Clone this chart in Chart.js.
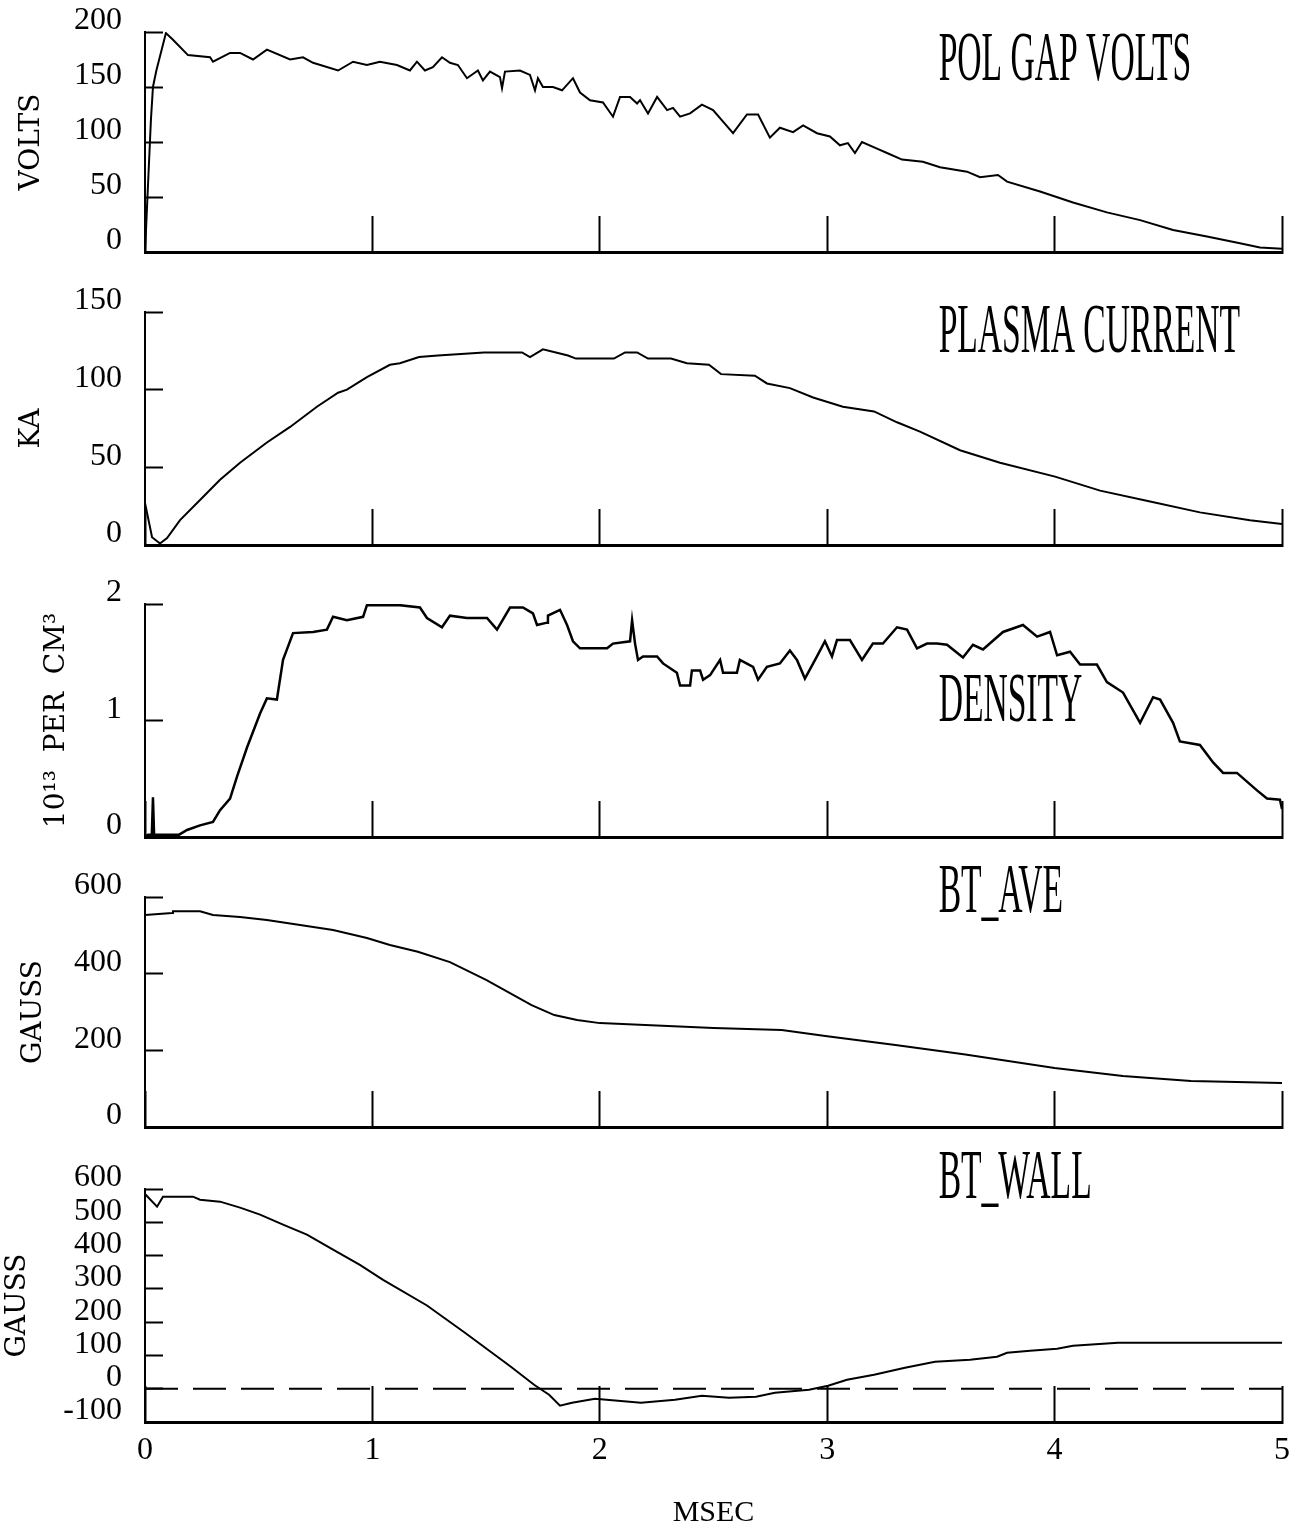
<!DOCTYPE html>
<html>
<head>
<meta charset="utf-8">
<title>Discharge traces</title>
<script src="https://cdn.jsdelivr.net/npm/chart.js@4.4.1/dist/chart.umd.min.js"></script>
<style>
  html, body { margin: 0; padding: 0; background: #fff; }
  #page { position: relative; width: 1289px; height: 1533px; overflow: hidden; }
  .panel { position: absolute; left: 0; width: 1289px; }
</style>
</head>
<body>
<div id="page">
  <div class="panel" style="top:0px;height:302px"><canvas id="gap"></canvas></div>
  <div class="panel" style="top:262px;height:333px"><canvas id="current"></canvas></div>
  <div class="panel" style="top:554px;height:333px"><canvas id="density"></canvas></div>
  <div class="panel" style="top:847px;height:330px"><canvas id="btave"></canvas></div>
  <div class="panel" style="top:1139px;height:394px"><canvas id="btwall"></canvas></div>
</div>
<script>
// all traces share one time base, in msec
const timeTicks = [0, 1, 2, 3, 4, 5];

// poloidal gap voltage (V)
const gapT = [0, 0.013, 0.026, 0.035, 0.05, 0.092, 0.123, 0.189, 0.286, 0.299,
  0.374, 0.418, 0.475, 0.536, 0.638, 0.695, 0.739, 0.849, 0.915, 0.976,
  1.033, 1.108, 1.165, 1.196, 1.231, 1.266, 1.306, 1.341, 1.376, 1.416,
  1.464, 1.486, 1.517, 1.561, 1.570, 1.583, 1.649, 1.693, 1.715, 1.728,
  1.750, 1.794, 1.834, 1.882, 1.913, 1.957, 2.014, 2.058, 2.089, 2.133,
  2.164, 2.177, 2.212, 2.252, 2.296, 2.322, 2.353, 2.397, 2.449, 2.498,
  2.586, 2.647, 2.696, 2.748, 2.792, 2.850, 2.894, 2.955, 3.012, 3.056,
  3.091, 3.122, 3.153, 3.219, 3.263, 3.329, 3.421, 3.496, 3.615, 3.672,
  3.751, 3.791, 3.936, 4.081, 4.230, 4.376, 4.521, 4.670, 4.815, 4.903, 5.0];
const gapVolts = [0, 60, 120, 150, 165, 199, 193, 179, 177, 173,
  181, 181, 175, 184, 175, 177, 172, 165, 173, 170,
  173, 170, 165, 173, 165, 168, 177, 172, 170, 158,
  165, 156, 164, 159, 149, 164, 165, 161, 147, 158,
  150, 150, 147, 158, 145, 138, 136, 123, 141, 141,
  135, 138, 126, 141, 129, 131, 123, 126, 134, 129,
  108, 125, 125, 104, 113, 109, 115, 108, 105, 97,
  99, 90, 100, 94, 90, 84, 82, 77, 73, 68,
  70, 64, 55, 45, 36, 29, 20, 14, 8, 4, 3];

// plasma current (kA)
const currentT = [0, 0.031, 0.066, 0.097, 0.154, 0.242, 0.330, 0.418, 0.536, 0.638,
  0.756, 0.849, 0.888, 0.976, 1.077, 1.121, 1.205, 1.288, 1.491, 1.658,
  1.693, 1.750, 1.860, 1.895, 2.062, 2.111, 2.164, 2.212, 2.313, 2.383,
  2.480, 2.533, 2.682, 2.735, 2.836, 2.938, 3.069, 3.206, 3.307, 3.408,
  3.584, 3.760, 4.002, 4.200, 4.420, 4.639, 4.859, 5.0];
const currentKA = [27, 5, 1, 4.5, 16, 29, 42, 53, 66, 76,
  89, 98, 100, 108, 116, 117, 121, 122, 124, 124,
  121, 126, 122, 120, 120, 124, 124, 120, 120, 117,
  116, 110, 109, 104, 101, 95, 89, 86, 79, 73,
  61, 53, 44, 35, 28, 21, 16, 13.5];

// line density (1e13 per cm^3)
const densityT = [0, 0.013, 0.030, 0.035, 0.040, 0.150, 0.185, 0.242, 0.299, 0.330,
  0.374, 0.405, 0.449, 0.506, 0.536, 0.580, 0.607, 0.651, 0.739, 0.800,
  0.827, 0.888, 0.959, 0.976, 1.121, 1.209, 1.240, 1.306, 1.341, 1.416,
  1.504, 1.548, 1.605, 1.662, 1.706, 1.724, 1.768, 1.772, 1.825, 1.856,
  1.882, 1.913, 2.032, 2.058, 2.133, 2.142, 2.155, 2.168, 2.190, 2.252,
  2.278, 2.339, 2.353, 2.397, 2.405, 2.441, 2.454, 2.485, 2.529, 2.542,
  2.603, 2.616, 2.674, 2.696, 2.735, 2.792, 2.836, 2.867, 2.902, 2.955,
  2.990, 3.021, 3.043, 3.100, 3.153, 3.201, 3.245, 3.307, 3.351, 3.395,
  3.439, 3.483, 3.527, 3.597, 3.641, 3.685, 3.773, 3.861, 3.923, 3.980,
  4.011, 4.068, 4.112, 4.186, 4.230, 4.301, 4.376, 4.433, 4.464, 4.521,
  4.551, 4.639, 4.697, 4.741, 4.802, 4.890, 4.934, 4.991, 5.0];
const densityN = [0, 0.02, 0.02, 0.34, 0.02, 0.02, 0.06, 0.10, 0.13, 0.23,
  0.33, 0.52, 0.77, 1.06, 1.19, 1.18, 1.52, 1.75, 1.76, 1.78,
  1.89, 1.86, 1.89, 1.99, 1.99, 1.97, 1.88, 1.80, 1.90, 1.88,
  1.88, 1.78, 1.97, 1.97, 1.92, 1.82, 1.84, 1.90, 1.95, 1.82,
  1.68, 1.62, 1.62, 1.66, 1.68, 1.86, 1.66, 1.52, 1.55, 1.55,
  1.49, 1.41, 1.30, 1.30, 1.43, 1.43, 1.35, 1.39, 1.52, 1.41,
  1.41, 1.52, 1.46, 1.35, 1.46, 1.49, 1.60, 1.52, 1.36, 1.55,
  1.68, 1.55, 1.69, 1.69, 1.52, 1.66, 1.66, 1.80, 1.78, 1.62,
  1.66, 1.66, 1.65, 1.54, 1.65, 1.61, 1.76, 1.82, 1.72, 1.76,
  1.56, 1.59, 1.48, 1.48, 1.33, 1.24, 0.98, 1.20, 1.18, 0.98,
  0.82, 0.79, 0.64, 0.55, 0.55, 0.40, 0.33, 0.32, 0.24];

// average toroidal field (G)
const btAveT = [0, 0.119, 0.123, 0.242, 0.299, 0.418, 0.536, 0.682, 0.827, 0.976,
  1.077, 1.2, 1.341, 1.5, 1.7, 1.8, 1.9, 2.0, 2.2, 2.5,
  2.8, 3.0, 3.3, 3.6, 4.0, 4.3, 4.6, 5.0];
const btAveG = [553, 558, 563, 563, 553, 548, 540, 527, 514, 493,
  475, 457, 430, 384, 318, 292, 279, 271, 266, 258,
  253, 237, 214, 190, 154, 133, 120, 115];

// toroidal field at the wall (G)
const btWallT = [0, 0.053, 0.079, 0.211, 0.242, 0.330, 0.418, 0.506, 0.607, 0.712,
  0.827, 0.945, 1.047, 1.24, 1.407, 1.508, 1.609, 1.711, 1.777, 1.825,
  1.878, 1.979, 2.080, 2.181, 2.331, 2.449, 2.568, 2.687, 2.770, 2.920,
  3.004, 3.087, 3.206, 3.342, 3.474, 3.628, 3.747, 3.791, 3.892, 4.011,
  4.081, 4.279, 5.0];
const btWallG = [585, 547, 577, 577, 568, 562, 544, 523, 493, 463,
  418, 372, 327, 250, 168, 117, 66, 12, -18, -51,
  -42, -30, -36, -42, -33, -21, -27, -24, -12, -3,
  9, 27, 42, 63, 81, 87, 96, 108, 114, 120,
  129, 138, 138];

// zero reference for the wall field
const wallZeroT = [0, 5];
const wallZeroG = [0, 0];

const zip = (xs, ys) => xs.map((x, i) => ({ x: x, y: ys[i] }));

const tickFont = { family: "'Liberation Serif', serif", size: 32 };
const axisTitleFont = { family: "'DejaVu Serif', serif", size: 28 };

// big narrow caption inside each panel, placed in data units
const panelTitle = {
  id: 'panelTitle',
  afterDatasetsDraw(chart, args, opts) {
    if (!opts.text) return;
    const ctx = chart.ctx;
    const px = chart.scales.x.getPixelForValue(opts.atX);
    const py = chart.scales.y.getPixelForValue(opts.atY);
    ctx.save();
    ctx.font = "70px 'Liberation Serif', serif";
    ctx.fillStyle = '#000';
    ctx.textBaseline = 'alphabetic';
    ctx.textAlign = 'left';
    ctx.translate(px, py);
    ctx.scale(0.48, 1);
    ctx.fillText(opts.text, 0, 0);
    ctx.restore();
  }
};

function trace(points, width) {
  return {
    data: points,
    borderColor: '#000',
    borderWidth: width || 2,
    pointRadius: 0,
    fill: false,
    tension: 0
  };
}

function makePanel(id, p) {
  const last = !!p.showTime;
  return new Chart(document.getElementById(id), {
    type: 'line',
    data: { datasets: p.datasets },
    options: {
      responsive: true,
      maintainAspectRatio: false,
      animation: false,
      events: [],
      layout: { padding: { top: p.padTop, right: 7, left: 0, bottom: 0 } },
      plugins: {
        legend: { display: false },
        tooltip: { enabled: false },
        panelTitle: { text: p.title, atX: 3.49, atY: p.titleY }
      },
      scales: {
        x: {
          type: 'linear',
          min: 0,
          max: 5,
          afterBuildTicks: s => { s.ticks = timeTicks.map(v => ({ value: v })); },
          // fixed strip height, no extra room for the end labels
          afterFit: s => { s.height = p.axisH; s.paddingLeft = 0; s.paddingRight = 0; },
          border: { color: '#000', width: 3 },
          grid: { drawOnChartArea: false, tickLength: -36, tickWidth: 2, tickColor: '#000' },
          ticks: { display: last, padding: 45, maxRotation: 0, color: '#000', font: tickFont },
          title: { display: last, text: 'MSEC', color: '#000', font: { family: "'Liberation Serif', serif", size: 30 }, padding: { top: 0, bottom: 2 } }
        },
        y: {
          min: p.min,
          max: p.max,
          afterFit: s => { s.width = 145; s.paddingTop = 0; s.paddingBottom = 0; },
          border: { color: '#000', width: 2 },
          grid: { drawOnChartArea: false, tickLength: -18, tickWidth: 2, tickColor: '#000' },
          ticks: { stepSize: p.step, autoSkip: false, padding: 41, labelOffset: -11, color: '#000', font: tickFont },
          title: { display: true, text: p.unit, color: '#000', font: axisTitleFont, padding: { top: p.unitPad } }
        }
      }
    },
    plugins: [panelTitle]
  });
}

makePanel('gap', {
  datasets: [trace(zip(gapT, gapVolts))],
  min: 0, max: 200, step: 50, unit: 'VOLTS', unitPad: 15,
  title: 'POL GAP VOLTS', titleY: 156, padTop: 32, axisH: 50
});

makePanel('current', {
  datasets: [trace(zip(currentT, currentKA))],
  min: 0, max: 150, step: 50, unit: 'KA', unitPad: 15,
  title: 'PLASMA CURRENT', titleY: 124, padTop: 50, axisH: 50
});

makePanel('density', {
  datasets: [trace(zip(densityT, densityN), 2.5)],
  min: 0, max: 2, step: 1, unit: '10\u00b9\u00b3  PER  CM\u00b3', unitPad: 40,
  title: 'DENSITY', titleY: 1.0, padTop: 50, axisH: 50
});

makePanel('btave', {
  datasets: [trace(zip(btAveT, btAveG))],
  min: 0, max: 600, step: 200, unit: 'GAUSS', unitPad: 17,
  title: 'BT_AVE', titleY: 561, padTop: 50, axisH: 50
});

const zeroLine = trace(zip(wallZeroT, wallZeroG));
zeroLine.borderDash = [33, 15];

makePanel('btwall', {
  datasets: [trace(zip(btWallT, btWallG)), zeroLine],
  min: -100, max: 600, step: 100, unit: 'GAUSS', unitPad: 1,
  title: 'BT_WALL', titleY: 574, padTop: 50, axisH: 111, showTime: true
});
</script>
</body>
</html>
